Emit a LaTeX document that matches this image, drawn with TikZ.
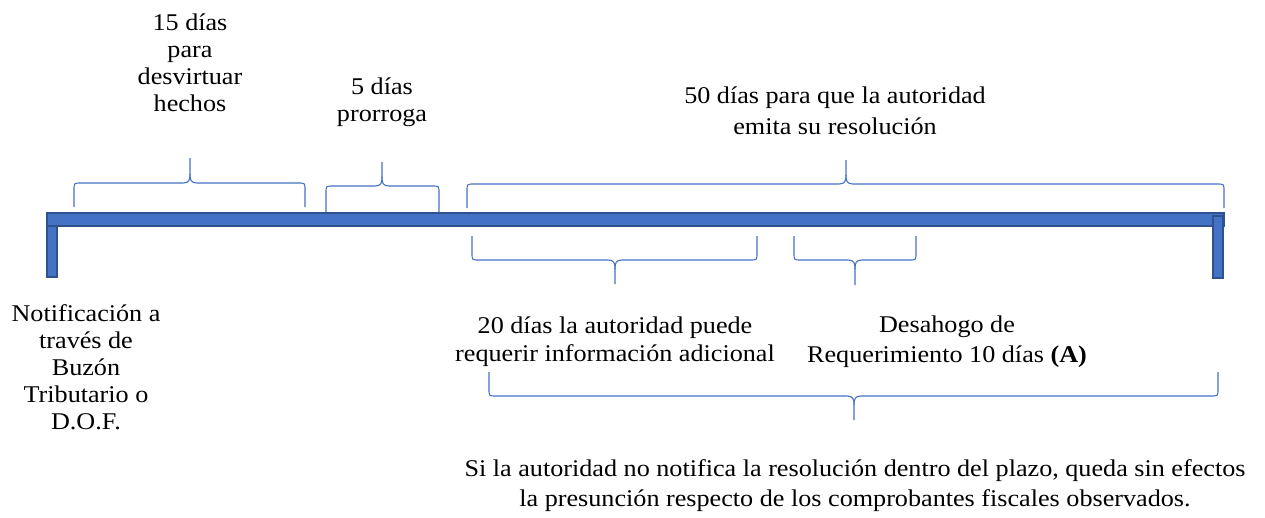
\documentclass[tikz,border=0pt]{standalone}
\usepackage{fontspec}
\setmainfont{Liberation Serif}[FakeStretch=1.09]
\definecolor{barblue}{HTML}{4472C4}
\definecolor{bardark}{HTML}{2F528F}
\definecolor{brblue}{HTML}{4472C4}
\newcommand{\bracu}[6]{%
  \draw[br] (#1,#3) -- (#1,{#4+7}) .. controls (#1,#4) .. ({#1+7},#4) -- ({#5-7},#4) .. controls ({#5-1},#4) and (#5,{#4-3}) .. (#5,{#4-9}) -- (#5,#6);
  \draw[br] (#2,#3) -- (#2,{#4+7}) .. controls (#2,#4) .. ({#2-7},#4) -- ({#5+7},#4) .. controls ({#5+1},#4) and (#5,{#4-3}) .. (#5,{#4-9});}
\newcommand{\bracd}[6]{%
  \draw[br] (#1,#3) -- (#1,{#4-7}) .. controls (#1,#4) .. ({#1+7},#4) -- ({#5-7},#4) .. controls ({#5-1},#4) and (#5,{#4+3}) .. (#5,{#4+9}) -- (#5,#6);
  \draw[br] (#2,#3) -- (#2,{#4-7}) .. controls (#2,#4) .. ({#2-7},#4) -- ({#5+7},#4) .. controls ({#5+1},#4) and (#5,{#4+3}) .. (#5,{#4+9});}
\begin{document}
\begin{tikzpicture}[x=1pt,y=-1pt,
  br/.style={draw=brblue,line width=1.1pt},
  bar/.style={fill=barblue,draw=bardark,line width=1.6pt},
  lbl/.style={align=center,inner sep=0pt,font=\fontsize{24}{27}\selectfont}]
\useasboundingbox (0,0) rectangle (1265,517);
% timeline bar
\path[bar] (47,226) rectangle (57,277);
\path[bar] (47,213) rectangle (1224,226);
\path[bar] (1213,216) rectangle (1223,278);
% braces above
\bracu{74}{305}{207}{183}{190}{158}
\bracu{326}{439}{212}{186}{382}{162}
\bracu{467}{1224}{208}{184}{846}{160}
% braces below
\bracd{472}{757}{236}{260}{615}{284}
\bracd{794}{916}{236}{260}{855}{285}
\bracd{489}{1218}{372}{396}{854}{420}
% labels
\node[lbl] (d15) at (190,63) {15 días\\para\\desvirtuar\\hechos};
\node[lbl] (d5) at (382,102) {5 días\\prorroga};
\node[lbl,font=\fontsize{24}{31}\selectfont] (d50) at (835,111) {50 días para que la autoridad\\emita su resolución};
\node[lbl] (notif) at (86,367) {Notificación a\\través de\\Buzón\\Tributario o\\D.O.F.};
\node[lbl,font=\fontsize{24}{28}\selectfont] (d20) at (615,342) {20 días la autoridad puede\\requerir información adicional};
\node[lbl,font=\fontsize{24}{30}\selectfont] (des) at (947,342) {Desahogo de\\Requerimiento 10 días \textbf{(A)}};
\node[lbl,font=\fontsize{24}{30}\selectfont] (fin) at (855,486) {Si la autoridad no notifica la resolución dentro del plazo, queda sin efectos\\la presunción respecto de los comprobantes fiscales observados.};
\end{tikzpicture}
\end{document}
